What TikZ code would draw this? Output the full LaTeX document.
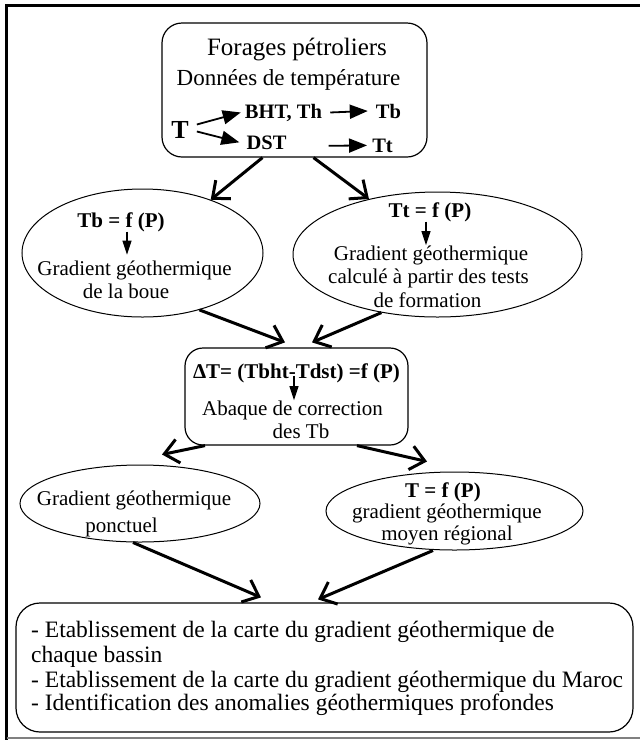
\documentclass[tikz,border=0pt]{standalone}
\usepackage{fontspec}
\setmainfont{Liberation Serif}
\usetikzlibrary{shapes.geometric,arrows.meta}
\newcommand\fsA{\fontsize{25}{29}\selectfont}
\newcommand\fsB{\fontsize{23}{27}\selectfont}
\newcommand\fsT{\fontsize{26}{30}\selectfont}
\newcommand\fsC{\fontsize{20.5}{24}\selectfont}
\newcommand\fsD{\fontsize{21}{25}\selectfont}
\newcommand\fsE{\fontsize{23.5}{27}\selectfont}
\begin{document}
\begin{tikzpicture}[x=1pt,y=-1pt,
  box/.style={draw, rounded corners=20pt, line width=1.2pt, inner sep=0pt},
  ell/.style={draw, ellipse, line width=1pt, inner sep=0pt},
  txt/.style={inner sep=0pt, anchor=base},
  big/.style={line width=3pt, -{Straight Barb[length=14pt,width=24pt]}},
  small/.style={line width=1.2pt, -{Triangle[length=14pt,width=9pt]}},
  tarr/.style={line width=1.8pt, -{Triangle[length=18pt,width=14pt]}},
]
\useasboundingbox (0,0) rectangle (640,740);
\fill[white] (0,0) rectangle (640,740);
% frame
\draw[line width=3pt] (640,5.5) -- (6.5,5.5) -- (6.5,740);
\draw[gray, line width=2pt] (6.5,738) -- (640,738);

% shapes
\node[box, minimum width=265pt, minimum height=134pt] (top) at (294.5,90) {};
\node[ell, minimum width=241pt, minimum height=128pt] (e1) at (142.5,253) {};
\node[ell, minimum width=289pt, minimum height=125pt] (e2) at (437.5,254.5) {};
\node[box, rounded corners=18pt, minimum width=223pt, minimum height=97pt] (mid) at (296.5,396.5) {};
\node[ell, minimum width=240pt, minimum height=77pt] (e3) at (140,503.5) {};
\node[ell, minimum width=257pt, minimum height=78pt] (e4) at (454.5,511) {};
\node[box, rounded corners=24pt, minimum width=617pt, minimum height=129pt] (bot) at (324.5,667.5) {};

% top box text
\node[txt,font=\fsA] (f1) at (297,55) {Forages pétroliers};
\node[txt,font=\fsB] (f2) at (288.5,85) {Données de température};
\node[txt,font=\fsT\bfseries] (tT) at (180,138) {T};
\node[txt,font=\fsC\bfseries] (bht) at (283.5,118) {BHT, Th};
\node[txt,font=\fsC\bfseries] (tbn) at (388.5,118) {Tb};
\node[txt,font=\fsC\bfseries] (dst) at (266.5,149) {DST};
\node[txt,font=\fsC\bfseries] (ttn) at (382.5,152) {Tt};
\draw[tarr] ([xshift=8pt,yshift=5pt]tT.east) -- ([xshift=-4pt]bht.west);
\draw[tarr] ([xshift=8pt,yshift=-2pt]tT.east) -- ([xshift=-7pt]dst.west);
\draw[tarr] ([xshift=8pt]bht.east) -- ([xshift=-8pt]tbn.west);
\draw[tarr] ([xshift=42pt,yshift=-3.5pt]dst.east) -- ([xshift=-5pt]ttn.west);

% left ellipse
\node[txt,font=\fsD\bfseries] (tbf) at (121,227) {Tb = f (P)};
\node[txt,font=\fsD] (g1) at (134.5,275) {Gradient géothermique};
\node[txt,font=\fsD] (g1b) at (126,298) {de la boue};
\draw[small] ([xshift=6pt]tbf.south) -- ([xshift=-7.5pt,yshift=5.5pt]g1.north);

% right ellipse
\node[txt,font=\fsD\bfseries] (ttf) at (430,217) {Tt = f (P)};
\node[txt,font=\fsD] (g2) at (431,260) {Gradient géothermique};
\node[txt,font=\fsD] (g2b) at (428.5,283) {calculé à partir des tests};
\node[txt,font=\fsD] (g2c) at (427.5,307) {de formation};
\draw[small] ([xshift=-4pt]ttf.south) -- ([xshift=-5pt]g2.north);

% middle box
\node[txt,font=\fsD\bfseries] (dT) at (296.5,378) {ΔT= (Tbht-Tdst) =f (P)};
\node[txt,font=\fsD] (ab) at (292.5,415) {Abaque de correction};
\node[txt,font=\fsD] (ab2) at (301,438) {des Tb};
\draw[small] ([xshift=-2.5pt,yshift=7pt]dT.south) -- ([xshift=1.5pt]ab.north);

% lower ellipses
\node[txt,font=\fsD] (g3) at (134,505) {Gradient géothermique};
\node[txt,font=\fsD] (g3b) at (121.5,532) {ponctuel};
\node[txt,font=\fsD\bfseries] (tf) at (443,497) {T = f (P)};
\node[txt,font=\fsD] (g4) at (447,518) {gradient géothermique};
\node[txt,font=\fsD] (g4b) at (447,540) {moyen régional};

% bottom box
\node[txt,anchor=base west,font=\fsE] (b1) at (31,637) {- Etablissement de la carte du gradient géothermique de};
\node[txt,anchor=base west,font=\fsE] (b2) at (31,662) {chaque bassin};
\node[txt,anchor=base west,font=\fsE] (b3) at (31,687) {- Etablissement de la carte du gradient géothermique du Maroc};
\node[txt,anchor=base west,font=\fsE] (b4) at (31,710) {- Identification des anomalies géothermiques profondes};

% connectors
\draw[big] ([xshift=-32pt]top.south) -- (e1.38);
\draw[big] ([xshift=19pt]top.south) -- (e2.141);
\draw[big] (e1.-45) -- ([xshift=-11.5pt,yshift=5pt]mid.north);
\draw[big] (e2.226) -- ([xshift=15.5pt,yshift=5pt]mid.north);
\draw[big] ([xshift=-91.5pt]mid.south) -- ([xshift=22pt,yshift=10pt]e3.north);
\draw[big] ([xshift=60.5pt]mid.south) -- ([xshift=-27.5pt,yshift=10pt]e4.north);
\draw[big] ([xshift=-7pt]e3.south) -- ([xshift=-63.5pt,yshift=5pt]bot.north);
\draw[big] ([xshift=-21.5pt]e4.south) -- ([xshift=-6.5pt,yshift=3pt]bot.north);
\end{tikzpicture}
\end{document}
